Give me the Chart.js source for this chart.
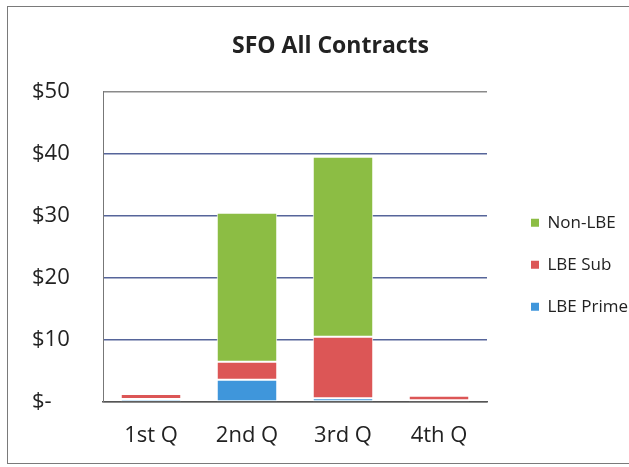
<!DOCTYPE html>
<html>
<head>
<meta charset="utf-8">
<script src="https://cdn.jsdelivr.net/npm/chart.js@4/dist/chart.umd.min.js"></script>
<style>
  html, body { margin: 0; padding: 0; background: #fff; overflow: hidden; }
  #wrap { position: relative; width: 629px; height: 467px; overflow: hidden; }
  #frame { position: absolute; left: 7px; top: 6px; width: 640px; height: 456px; border: 1px solid #7a7a7a; }
  #chart { position: absolute; left: 0; top: 0; }
</style>
</head>
<body>
<div id="wrap">
  <div id="frame"></div>
  <canvas id="chart" width="629" height="467"></canvas>
</div>
<script>
const quarters = ['1st Q', '2nd Q', '3rd Q', '4th Q'];
const lbePrime = [0.5, 3.6, 0.6, 0.3];
const lbeSub = [0.8, 2.9, 9.9, 0.7];
const nonLbe = [0, 24.0, 29.0, 0];
const yTicks = [0, 10, 20, 30, 40, 50];

Chart.defaults.font.family = "'Open Sans', sans-serif";
Chart.defaults.color = '#222';

// fixed legend width, then put it beside the plot area like the excel layout
const legendNudge = {
  id: 'legendNudge',
  beforeLayout(chart) {
    const l = chart.legend;
    if (!l._fixedFit) {
      const fit = l.fit;
      l.fit = function () { fit.call(this); this.width = 142; };
      l._fixedFit = true;
    }
  },
  afterLayout(chart) {
    const l = chart.legend, ca = chart.chartArea;
    l.left = ca.right + 19;
    l.right = l.left + l.width;
    l.top = ca.top + 18;
    l.bottom = ca.bottom + 18;
  }
};

const ctx = document.getElementById('chart').getContext('2d');
new Chart(ctx, {
  type: 'bar',
  data: {
    labels: quarters,
    datasets: [
      { label: 'LBE Prime', data: lbePrime, backgroundColor: '#3f96db' },
      { label: 'LBE Sub', data: lbeSub, backgroundColor: '#dc5656' },
      { label: 'Non-LBE', data: nonLbe, backgroundColor: '#8cbd44' }
    ]
  },
  options: {
    responsive: false,
    animation: false,
    layout: { padding: { left: 32, right: 0, top: 0, bottom: 17 } },
    datasets: {
      bar: {
        barPercentage: 0.63,
        categoryPercentage: 1,
        borderColor: '#fff',
        borderWidth: 1,
        borderSkipped: false
      }
    },
    plugins: {
      title: {
        display: true,
        text: 'SFO All Contracts',
        color: '#222',
        font: { size: 23, weight: 'bold' },
        padding: { top: 33, bottom: 31 }
      },
      legend: {
        position: 'right',
        reverse: true,
        labels: {
          boxWidth: 8,
          boxHeight: 8,
          padding: 25,
          color: '#222',
          font: { size: 17 },
          generateLabels(chart) {
            return Chart.defaults.plugins.legend.labels.generateLabels(chart)
              .map(item => ({ ...item, lineWidth: 0 }));
          }
        }
      },
      tooltip: { enabled: false }
    },
    scales: {
      x: {
        stacked: true,
        afterFit(scale) { scale.height = 48; },
        grid: { display: false, drawTicks: false },
        border: { display: true, color: '#555', width: 1.5 },
        ticks: { padding: 21, font: { size: 22 }, color: '#222', maxRotation: 0 }
      },
      y: {
        stacked: true,
        min: 0,
        max: 50,
        afterFit(scale) { scale.width = 71; },
        afterBuildTicks(scale) { scale.ticks = yTicks.map(v => ({ value: v })); },
        grid: {
          drawTicks: false,
          color: c => (c.tick && (c.tick.value === 50 || c.tick.value === 0)) ? '#8a8a8a' : '#56659a',
          lineWidth: 1.5
        },
        border: { display: true, color: '#777', width: 1 },
        ticks: {
          crossAlign: 'far',
          font: { size: 22 },
          color: '#222',
          callback: v => v === 0 ? '$-' : '$' + v
        }
      }
    }
  },
  plugins: [legendNudge]
});
</script>
</body>
</html>
